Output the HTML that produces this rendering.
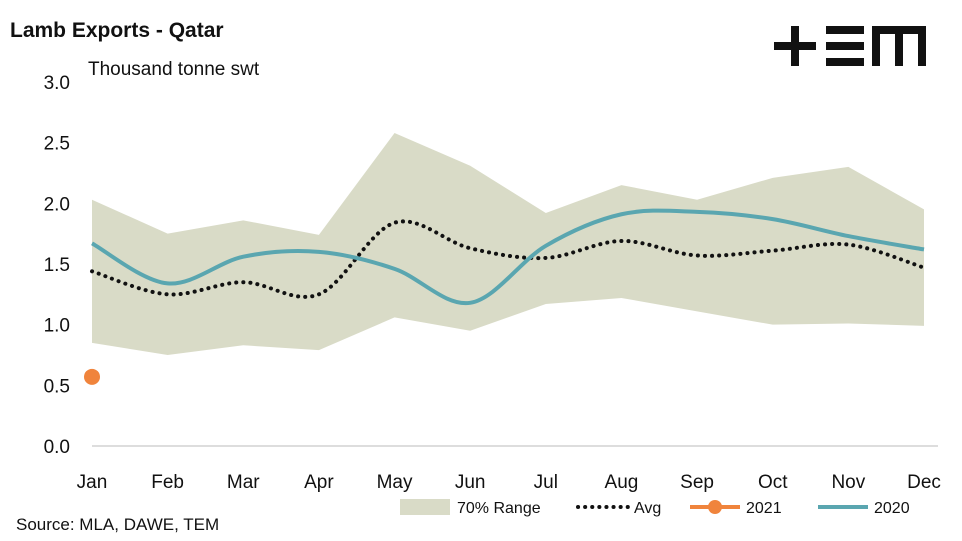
<!DOCTYPE html>
<html><head><meta charset="utf-8"><style>
body{margin:0;background:#fff;font-family:"Liberation Sans",sans-serif}
svg{display:block}
</style></head><body>
<svg id="chart" width="962" height="541">
<text x="10" y="37" font-size="21" font-weight="bold" fill="#111">Lamb Exports - Qatar</text>
<text x="88" y="75" font-size="19" fill="#111">Thousand tonne swt</text>
<g fill="#111">
<rect x="774" y="42" width="42" height="8"/><rect x="791" y="26" width="8" height="40"/>
<rect x="826" y="26" width="38" height="8"/><rect x="826" y="42" width="38" height="8"/><rect x="826" y="58" width="38" height="8"/>
<rect x="872" y="26" width="54" height="8"/><rect x="872" y="26" width="8" height="40"/><rect x="895" y="26" width="8" height="40"/><rect x="918" y="26" width="8" height="40"/>
</g>
<g id="axes"></g><g id="marks"></g>
<g font-size="16" fill="#111">
<rect x="400" y="499" width="50" height="16" fill="#d9dbc7"/>
<text x="457" y="513">70% Range</text>
<line x1="578" y1="507" x2="628" y2="507" stroke="#111" stroke-width="4" stroke-dasharray="0.1,7" stroke-linecap="round"/>
<text x="634" y="513">Avg</text>
<line x1="690" y1="507" x2="740" y2="507" stroke="#f0843c" stroke-width="4"/>
<circle cx="715" cy="507" r="7" fill="#f0843c"/>
<text x="746" y="513">2021</text>
<line x1="818" y1="507" x2="868" y2="507" stroke="#5aa6b0" stroke-width="4"/>
<text x="874" y="513">2020</text>
</g>
<text x="16" y="530" font-size="17" fill="#111">Source: MLA, DAWE, TEM</text>
</svg>
<script>
const months=["Jan","Feb","Mar","Apr","May","Jun","Jul","Aug","Sep","Oct","Nov","Dec"];
const yTicks=[0,0.5,1,1.5,2,2.5,3];
const rangeUpper=[2.03,1.75,1.86,1.74,2.58,2.31,1.92,2.15,2.03,2.21,2.30,1.95];
const rangeLower=[0.85,0.75,0.83,0.79,1.06,0.95,1.17,1.22,1.11,1.00,1.01,0.99];
const avg=[1.44,1.25,1.35,1.25,1.84,1.63,1.55,1.69,1.57,1.61,1.66,1.47];
const s2020=[1.67,1.34,1.56,1.60,1.46,1.18,1.65,1.91,1.93,1.87,1.73,1.62];
const s2021=[0.57];
const NS="http://www.w3.org/2000/svg";
const X=i=>92+i*(924-92)/11;
const Y=v=>446-v*(446-82)/3;
function mk(tag,attrs,parent){const e=document.createElementNS(NS,tag);for(const k in attrs)e.setAttribute(k,attrs[k]);parent.appendChild(e);return e;}
const axes=document.getElementById('axes'),marks=document.getElementById('marks');
yTicks.forEach(t=>{const tx=mk('text',{x:70,y:Y(t)+7,'font-size':19,'text-anchor':'end',fill:'#111'},axes);tx.textContent=t.toFixed(1);

});
months.forEach((m,i)=>{const tx=mk('text',{x:X(i),y:488,'font-size':19,'text-anchor':'middle',fill:'#111'},axes);tx.textContent=m;

});
const ax=mk('line',{x1:92,y1:446,x2:938,y2:446,stroke:'#bbb','stroke-width':1},axes);


let d='M'+rangeUpper.map((v,i)=>X(i)+','+Y(v)).join('L');
for(let i=rangeLower.length-1;i>=0;i--)d+='L'+X(i)+','+Y(rangeLower[i]);
const band=mk('path',{d:d+'Z',fill:'#d9dbc7'},marks);


function smooth(vals){const p=vals.map((v,i)=>[X(i),Y(v)]);let s='M'+p[0];for(let i=0;i<p.length-1;i++){const p0=p[i-1]||p[i],p1=p[i],p2=p[i+1],p3=p[i+2]||p2;
const c1=[p1[0]+(p2[0]-p0[0])/6,p1[1]+(p2[1]-p0[1])/6],c2=[p2[0]-(p3[0]-p1[0])/6,p2[1]-(p3[1]-p1[1])/6];s+='C'+c1+' '+c2+' '+p2;}return s;}
const a=mk('path',{d:smooth(avg),fill:'none',stroke:'#111','stroke-width':4,'stroke-dasharray':'0.1,7','stroke-linecap':'round'},marks);


const l=mk('path',{d:smooth(s2020),fill:'none',stroke:'#5aa6b0','stroke-width':4},marks);


s2021.forEach((v,i)=>{const c=mk('circle',{cx:X(i),cy:Y(v),r:8,fill:'#f0843c'},marks);

});
</script>
</body></html>
